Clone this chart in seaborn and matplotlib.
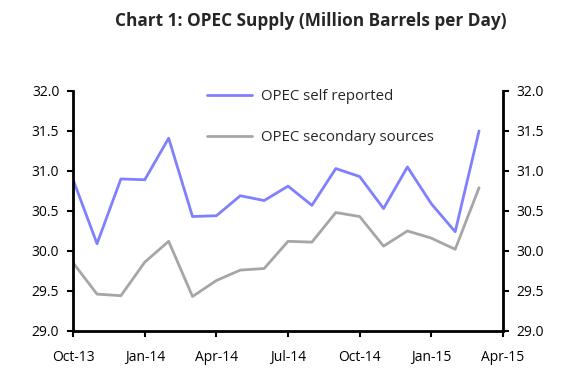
import pandas as pd
import seaborn as sns
import matplotlib.pyplot as plt

# monthly, Oct-13 .. Mar-15
months = ['Oct-13', 'Nov-13', 'Dec-13', 'Jan-14', 'Feb-14', 'Mar-14', 'Apr-14', 'May-14', 'Jun-14',
          'Jul-14', 'Aug-14', 'Sep-14', 'Oct-14', 'Nov-14', 'Dec-14', 'Jan-15', 'Feb-15', 'Mar-15']
self_reported = [30.89, 30.09, 30.90, 30.89, 31.41, 30.43, 30.44, 30.69, 30.63,
                 30.81, 30.57, 31.03, 30.93, 30.53, 31.05, 30.59, 30.24, 31.50]
secondary = [29.85, 29.46, 29.44, 29.86, 30.12, 29.43, 29.63, 29.76, 29.78,
             30.12, 30.11, 30.48, 30.43, 30.06, 30.25, 30.16, 30.02, 30.79]
tick_labels = ['Oct-13', 'Jan-14', 'Apr-14', 'Jul-14', 'Oct-14', 'Jan-15', 'Apr-15']

df = pd.DataFrame({'month': range(len(months)),
                   'OPEC self reported': self_reported,
                   'OPEC secondary sources': secondary})
long = df.melt(id_vars='month', var_name='series', value_name='mbpd')

sns.set_style('white')
plt.rcParams['font.family'] = ['Open Sans', 'DejaVu Sans']

fig = plt.figure(figsize=(5.67, 3.76), dpi=100)
ax = fig.add_axes([0.129, 0.12, 0.758, 0.638])

sns.lineplot(data=long, x='month', y='mbpd', hue='series',
             palette=['#8080ff', '#a6a6a6'], linewidth=2, ax=ax)

ax.set_xlim(0, 18)
ax.set_ylim(29.0, 32.0)
ax.set_xticks(range(0, 19, 3))
ax.set_xticklabels(tick_labels)
ax.set_yticks([29.0 + 0.5 * i for i in range(7)])
ax.set_yticklabels(['%.1f' % (29.0 + 0.5 * i) for i in range(7)])
ax.set_xlabel('')
ax.set_ylabel('')

for s in ['left', 'right', 'bottom']:
    ax.spines[s].set_visible(True)
    ax.spines[s].set_color('black')
    ax.spines[s].set_linewidth(2)
ax.spines['top'].set_visible(False)
ax.tick_params(axis='both', which='both', direction='out', length=4, width=1.5,
               labelsize=10, colors='black', pad=6)
ax.tick_params(axis='y', left=True, right=True, labelleft=True, labelright=True)
ax.tick_params(axis='x', bottom=True, pad=10)

leg = ax.legend(loc='upper left', bbox_to_anchor=(0.28, 1.065), frameon=False,
                fontsize=10.8, handlelength=3.0, labelspacing=1.75, handletextpad=0.6)
leg.set_title(None)

fig.suptitle('Chart 1: OPEC Supply (Million Barrels per Day)', x=0.548, y=0.968,
             fontsize=12.4, fontweight='bold')

fig.savefig('out.png', dpi=100)
